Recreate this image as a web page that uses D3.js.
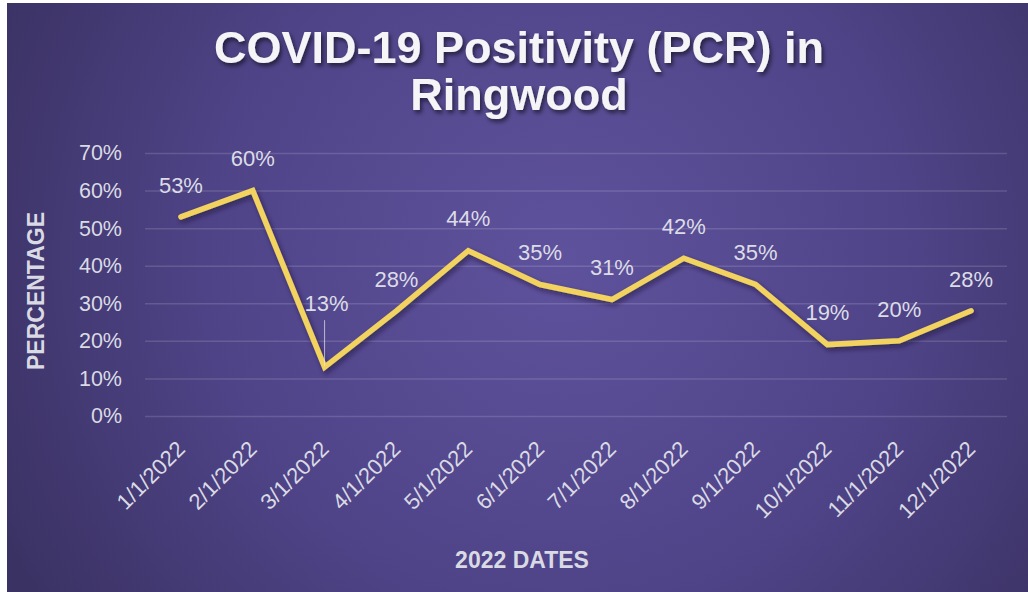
<!DOCTYPE html>
<html><head><meta charset="utf-8">
<script src="https://cdn.jsdelivr.net/npm/d3@7"></script>
<style>html,body{margin:0;padding:0;background:#fff;}svg{display:block;}</style>
</head><body>
<svg id="chart" width="1028" height="592"></svg>
<script>
const categories = ["1/1/2022","2/1/2022","3/1/2022","4/1/2022","5/1/2022","6/1/2022","7/1/2022","8/1/2022","9/1/2022","10/1/2022","11/1/2022","12/1/2022"];
const values = [53,60,13,28,44,35,31,42,35,19,20,28];
const yTicks = [0,10,20,30,40,50,60,70];
const titleLines = ["COVID-19 Positivity (PCR) in","Ringwood"];
const yTitle = "PERCENTAGE";
const xTitle = "2022 DATES";

const W = 1028, H = 592;
const svg = d3.select("#chart");
const defs = svg.append("defs");
const rg = defs.append("radialGradient").attr("id","bg").attr("gradientUnits","userSpaceOnUse")
  .attr("cx",560).attr("cy",260).attr("r",620);
rg.append("stop").attr("offset","0%").attr("stop-color","#5f529d");
rg.append("stop").attr("offset","55%").attr("stop-color","#4f4488");
rg.append("stop").attr("offset","100%").attr("stop-color","#3b3264");
const sh = defs.append("filter").attr("id","tshadow").attr("x","-10%").attr("y","-20%").attr("width","120%").attr("height","150%");
sh.append("feDropShadow").attr("dx",2).attr("dy",3).attr("stdDeviation",2).attr("flood-color","#000").attr("flood-opacity",0.55);
const lsh = defs.append("filter").attr("id","lshadow").attr("x","-10%").attr("y","-20%").attr("width","120%").attr("height","150%");
lsh.append("feDropShadow").attr("dx",2).attr("dy",3).attr("stdDeviation",2.5).attr("flood-color","#1a1535").attr("flood-opacity",0.6);

svg.append("rect").attr("x",7).attr("y",3).attr("width",W-7).attr("height",H-3).attr("fill","url(#bg)");

const plot = {left:145, right:1007, top:153, bottom:416};
const x = d3.scaleBand().domain(categories).range([plot.left, plot.right]);
const y = d3.scaleLinear().domain([0,70]).range([plot.bottom, plot.top]);
const xc = d => x(d) + x.bandwidth()/2;

// gridlines
const yAxis = d3.axisLeft(y).tickValues(yTicks).tickSize(-(plot.right-plot.left)).tickFormat(d => d + "%").tickPadding(23);
const gy = svg.append("g").attr("transform",`translate(${plot.left},0)`).call(yAxis);
gy.select(".domain").remove();
gy.selectAll(".tick line").attr("stroke","#ffffff").attr("stroke-opacity",0.14).attr("stroke-width",1.5);
gy.selectAll(".tick text").attr("fill","#dadae4").attr("font-family","Liberation Sans, Arial, sans-serif").attr("font-size",21.5);

// x axis labels
const xAxis = d3.axisBottom(x).tickSize(0).tickPadding(0);
const gx = svg.append("g").attr("transform",`translate(0,445)`).call(xAxis);
gx.select(".domain").remove();
gx.selectAll(".tick text")
  .attr("fill","#dadae4").attr("font-family","Liberation Sans, Arial, sans-serif").attr("font-size",22)
  .attr("text-anchor","end").attr("y",0).attr("dy","0.35em").attr("x",0)
  .attr("transform","rotate(-45)");

// line
const line = d3.line().x((d,i) => xc(categories[i])).y(d => y(d));
svg.append("path").datum(values).attr("d",line).attr("fill","none")
  .attr("stroke","#f3d35f").attr("stroke-width",5.5).attr("stroke-linejoin","miter").attr("stroke-linecap","round")
  .attr("filter","url(#lshadow)");

// data labels
const labelShift = {2: 64};
const labG = svg.append("g");
values.forEach((v,i) => {
  const px = xc(categories[i]), py = y(v);
  const off = labelShift[i] || 32;
  if (labelShift[i]) {
    labG.append("line").attr("x1",px).attr("x2",px).attr("y1",py-off+17).attr("y2",py-1)
      .attr("stroke","#e8e8f0").attr("stroke-opacity",0.7).attr("stroke-width",1);
  }
  labG.append("text").attr("x",px + (labelShift[i]?2:0)).attr("y",py-off).attr("dy","0.35em")
    .attr("text-anchor","middle").attr("fill","#dcdce6")
    .attr("font-family","Liberation Sans, Arial, sans-serif").attr("font-size",22)
    .text(v + "%");
});

// title
const tg = svg.append("g").attr("filter","url(#tshadow)");
titleLines.forEach((t,i) => {
  tg.append("text").attr("x",519).attr("y",63 + i*47).attr("text-anchor","middle")
    .attr("fill","#f5f5f7").attr("font-family","Liberation Sans, Arial, sans-serif")
    .attr("font-size",45).attr("font-weight","bold").text(t);
});

// axis titles
svg.append("text").attr("transform","translate(44,291) rotate(-90)").attr("text-anchor","middle")
  .attr("fill","#dadae4").attr("font-family","Liberation Sans, Arial, sans-serif").attr("font-size",23).attr("font-weight","bold")
  .text(yTitle);
svg.append("text").attr("x",522).attr("y",568).attr("text-anchor","middle")
  .attr("fill","#dadae4").attr("font-family","Liberation Sans, Arial, sans-serif").attr("font-size",23).attr("font-weight","bold")
  .text(xTitle);
</script>
</body></html>
